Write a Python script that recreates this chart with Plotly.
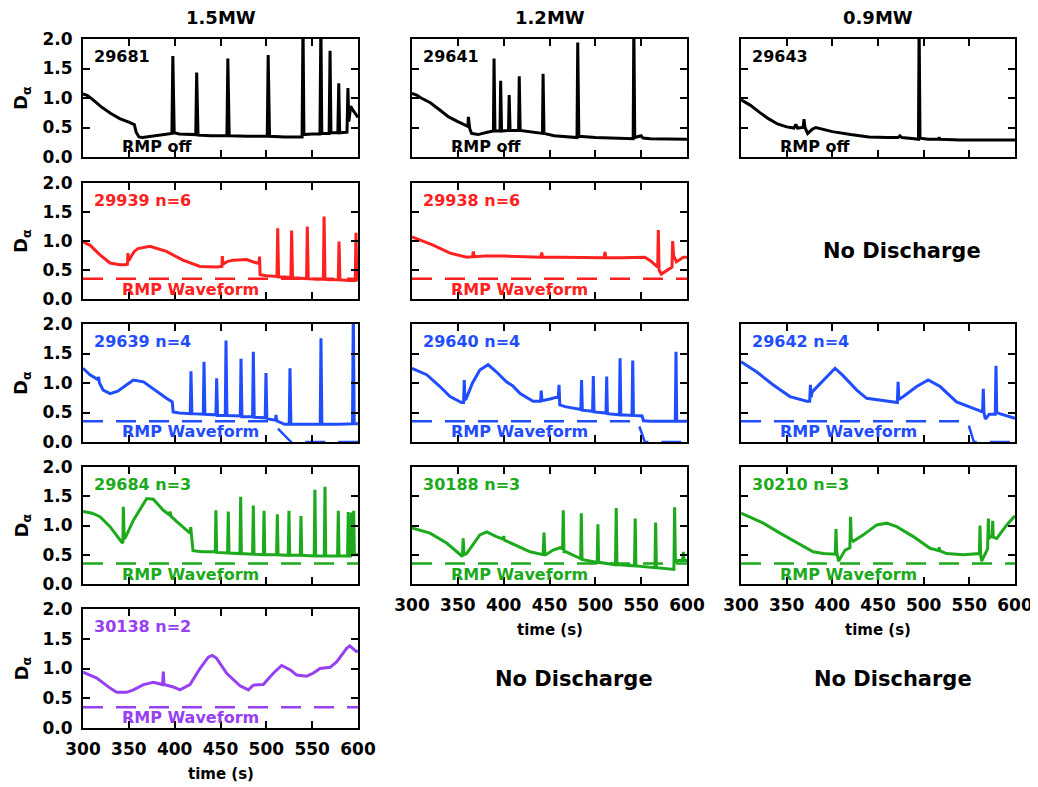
import plotly.graph_objects as go

# ---------------- data ----------------
column_titles = ["1.5MW", "1.2MW", "0.9MW"]
x_ticks = [300, 350, 400, 450, 500, 550, 600]
y_ticks = [0.0, 0.5, 1.0, 1.5, 2.0]

t_29681 = [300, 305, 310, 320, 330, 340, 350, 356, 358, 361, 365, 370, 380, 390, 397, 398, 399.5, 405, 415, 423, 424, 425.5,
           440, 457, 458, 459.5, 480, 501, 502, 503.5, 520, 539, 540, 541, 550, 558.5, 559.5, 560.5, 568.5, 569.5, 570.5,
           578, 579, 580, 588, 589, 590, 592, 595, 600]
v_29681 = [1.07, 1.04, 0.98, 0.85, 0.74, 0.65, 0.59, 0.55, 0.42, 0.34, 0.33, 0.34, 0.37, 0.39, 0.40, 1.71, 0.41, 0.39, 0.38, 0.38, 1.43, 0.37,
           0.36, 0.36, 1.67, 0.36, 0.35, 0.35, 1.73, 0.35, 0.34, 0.34, 2.3, 0.38, 0.39, 0.39, 2.3, 0.40, 0.40, 1.80, 0.41,
           0.41, 1.25, 0.41, 0.42, 1.17, 0.60, 0.86, 0.78, 0.67]

t_29641 = [300, 305, 310, 320, 330, 340, 350, 358, 361, 361.5, 363, 365, 372, 382, 388.8, 389.5, 390.5, 396, 396.7, 397.7,
           405.3, 406, 407, 416.3, 417, 418, 430, 442.3, 443, 444, 455, 470, 480, 480.8, 482, 500, 520, 541.3, 542, 543,
           550, 552, 560, 580, 600]
v_29641 = [1.08, 1.05, 1.00, 0.92, 0.80, 0.68, 0.60, 0.54, 0.52, 0.68, 0.48, 0.40, 0.38, 0.42, 0.44, 1.67, 0.44, 0.44, 1.29, 0.44,
           0.45, 1.05, 0.45, 0.45, 1.37, 0.45, 0.42, 0.40, 1.41, 0.40, 0.36, 0.34, 0.33, 1.94, 0.35, 0.33, 0.32, 0.31, 2.3, 0.33,
           0.36, 0.32, 0.31, 0.30, 0.30]

t_29643 = [300, 310, 320, 330, 340, 350, 358, 360, 362, 368, 369, 370, 373, 378, 382, 390, 400, 420, 440, 460, 472, 474, 476,
           490, 494.3, 495, 496, 505, 516, 517, 518, 540, 570, 600]
v_29643 = [0.97, 0.88, 0.76, 0.65, 0.56, 0.51, 0.49, 0.55, 0.49, 0.50, 0.64, 0.50, 0.40, 0.47, 0.50, 0.47, 0.43, 0.38, 0.34, 0.33, 0.33, 0.36, 0.33,
           0.31, 0.30, 2.3, 0.32, 0.30, 0.30, 0.33, 0.30, 0.29, 0.29, 0.29]

t_29939 = [300, 303, 307.6, 318.5, 329.5, 340, 346, 348.5, 349, 349.8, 352, 356, 360, 373, 391, 409, 427.6, 446, 451.5, 452, 452.8,
           458, 464, 478.5, 489.5, 492, 492.6, 493.2, 500, 511.6, 512.4, 513.4, 520, 526.8, 527.6, 528.6, 535, 543.9, 544.7, 545.7,
           555, 562.2, 563, 564, 570, 578.5, 579.3, 580.3, 590, 597, 597.8, 598.8, 600]
v_29939 = [0.99, 0.96, 0.93, 0.76, 0.62, 0.59, 0.59, 0.60, 0.79, 0.66, 0.72, 0.82, 0.87, 0.91, 0.82, 0.67, 0.56, 0.55, 0.56, 0.74, 0.60,
           0.65, 0.67, 0.68, 0.62, 0.62, 0.73, 0.42, 0.40, 0.39, 1.22, 0.38, 0.38, 0.37, 1.18, 0.36, 0.36, 0.35, 1.25, 0.35,
           0.34, 0.34, 1.42, 0.34, 0.33, 0.33, 0.99, 0.33, 0.32, 0.32, 1.14, 0.33, 0.33]

t_29938 = [300, 310, 323, 341.5, 359.7, 366, 366.9, 367.8, 380, 400, 420, 440.6, 441.5, 442.4, 460, 480, 500, 509.6, 510.5, 511.4,
           530, 554, 560, 567, 568, 568.7, 569.5, 572, 578.5, 583.6, 584.4, 585.4, 588.5, 596, 600]
v_29938 = [1.07, 1.01, 0.93, 0.79, 0.72, 0.73, 0.82, 0.73, 0.74, 0.74, 0.73, 0.72, 0.80, 0.72, 0.72, 0.72, 0.71, 0.71, 0.81, 0.71,
           0.71, 0.72, 0.66, 0.56, 0.55, 1.19, 0.50, 0.43, 0.50, 0.55, 1.00, 0.75, 0.64, 0.72, 0.72]

t_29639 = [300, 307.6, 316, 317, 318, 322, 329.5, 338, 347.7, 355, 366, 380.4, 391, 397.4, 398.3, 405, 417, 417.8, 418.8,
           431.2, 432, 433, 445, 445.8, 446.8, 455.2, 456, 457, 471.6, 472.4, 473.4, 485, 485.8, 486.8, 498.8, 499.6, 500.6,
           505, 510, 510.5, 511.2, 520, 525, 525.8, 526.8, 540, 558.8, 559.6, 560.6, 580, 594, 594.9, 595.8, 600]
v_29639 = [1.25, 1.14, 1.06, 1.10, 1.00, 0.88, 0.82, 0.86, 0.97, 1.05, 1.02, 0.85, 0.74, 0.68, 0.51, 0.49, 0.48, 1.20, 0.48,
           0.47, 1.36, 0.47, 0.46, 1.08, 0.45, 0.45, 1.72, 0.45, 0.44, 1.41, 0.43, 0.43, 1.53, 0.42, 0.41, 1.17, 0.40,
           0.38, 0.37, 0.46, 0.36, 0.30, 0.30, 1.25, 0.30, 0.30, 0.30, 1.76, 0.30, 0.30, 0.31, 2.3, 0.31, 0.31]

t_29640 = [300, 316, 330.5, 341.5, 354, 356.3, 357, 357.8, 359, 366, 374, 383, 392, 403, 410, 418, 432, 440.2, 441, 441.8,
           450.5, 459.6, 460.4, 461.2, 467, 476, 484.2, 485, 485.8, 497, 497.8, 498.6, 511.6, 512.4, 513.2, 526.2, 527, 527.8,
           540, 540.8, 541.6, 551, 552.5, 560, 587.2, 588, 588.8, 600]
v_29640 = [1.25, 1.14, 0.94, 0.77, 0.67, 0.67, 1.05, 0.72, 0.73, 1.00, 1.22, 1.31, 1.19, 1.02, 0.95, 0.82, 0.69, 0.69, 0.87, 0.70,
           0.73, 0.77, 0.97, 0.63, 0.60, 0.57, 0.55, 1.05, 0.54, 0.52, 1.12, 0.51, 0.49, 1.11, 0.48, 0.46, 1.42, 0.46,
           0.45, 1.38, 0.45, 0.44, 0.36, 0.35, 0.35, 1.53, 0.35, 0.35]

t_29642 = [300, 317, 335, 353.6, 372, 375.2, 376, 376.8, 378, 393.8, 403, 412, 426.7, 437.6, 452, 470.5, 471.2, 472, 472.8,
           477.8, 492.4, 505, 518, 536, 554, 563.6, 564.5, 565.3, 566, 567.5, 571.8, 578.4, 579.2, 580, 583, 600]
v_29642 = [1.36, 1.19, 0.97, 0.77, 0.69, 0.69, 0.97, 0.76, 0.85, 1.11, 1.25, 1.12, 0.88, 0.74, 0.71, 0.67, 0.67, 1.02, 0.72,
           0.77, 0.94, 1.05, 0.94, 0.68, 0.57, 0.51, 0.51, 0.90, 0.50, 0.39, 0.47, 0.47, 1.29, 0.50, 0.48, 0.40]

t_29684 = [300, 310, 318.5, 329.5, 342, 343.5, 344, 345, 347, 355, 369.5, 376.7, 387.6, 394.5, 395, 396, 402, 416.7, 417.5,
           418, 419, 420, 430, 444.3, 445, 445.8, 457.7, 458.5, 459.3, 471.2, 472, 472.8, 485, 485.8, 486.6, 496.7, 497.5,
           498.3, 511.2, 512, 512.8, 523.9, 524.7, 525.5, 537, 537.8, 538.6, 552.2, 553, 553.8, 563.2, 564, 564.8, 577.7,
           578.5, 579.3, 588.6, 589.4, 590.2, 592.2, 593, 593.8, 594.6, 595.3, 596, 600]
v_29684 = [1.24, 1.21, 1.15, 0.98, 0.72, 0.70, 1.32, 0.77, 0.82, 1.09, 1.46, 1.45, 1.26, 1.18, 1.24, 1.16, 1.07, 0.87, 0.97,
           0.87, 0.61, 0.57, 0.55, 0.55, 1.26, 0.54, 0.53, 1.24, 0.53, 0.52, 1.49, 0.52, 0.51, 1.34, 0.51, 0.50, 1.25,
           0.50, 0.50, 1.19, 0.50, 0.49, 1.25, 0.49, 0.49, 1.16, 0.49, 0.48, 1.61, 0.48, 0.48, 1.66, 0.48, 0.48,
           1.25, 0.48, 0.48, 1.23, 0.48, 0.48, 1.22, 0.49, 0.49, 1.25, 0.50, 0.50]

t_30188 = [300, 319.6, 337.8, 354, 355, 355.8, 356.8, 359.6, 374, 381.5, 392, 399.2, 400, 400.8, 410.5, 428.8, 443, 444, 445,
           446, 454, 461.5, 464.2, 465, 465.8, 468, 483, 484, 484.7, 485.5, 502, 502.8, 503.6, 522, 522.8, 523.6, 542.7, 543.5,
           544.3, 565, 565.8, 566.6, 585.7, 586.5, 587.3, 590, 595.2, 596, 596.8, 600]
v_30188 = [0.96, 0.87, 0.70, 0.47, 0.47, 0.78, 0.50, 0.52, 0.84, 0.89, 0.81, 0.77, 0.82, 0.75, 0.68, 0.55, 0.50, 0.88, 0.50,
           0.50, 0.58, 0.62, 0.60, 1.26, 0.55, 0.55, 0.44, 0.43, 1.21, 0.42, 0.37, 1.02, 0.37, 0.33, 1.30, 0.33, 0.31, 1.12,
           0.31, 0.28, 1.05, 0.28, 0.25, 1.31, 0.38, 0.40, 0.40, 0.55, 0.40, 0.40]

t_30210 = [300, 324.4, 342.7, 361, 379, 390, 397.5, 403.2, 404, 404.8, 406.8, 414, 419.2, 420, 420.8, 423, 434, 448.6, 459.5,
           470.5, 488.7, 507, 516.5, 517, 517.5, 525, 543.4, 560, 561, 561.7, 562.4, 563.5, 567, 570, 570.8, 571.6, 573,
           575, 575.6, 576.2, 580, 591, 599, 600]
v_30210 = [1.21, 1.04, 0.87, 0.71, 0.55, 0.52, 0.51, 0.51, 0.94, 0.55, 0.39, 0.58, 0.62, 1.15, 0.75, 0.73, 0.84, 1.01, 1.04,
           0.98, 0.81, 0.61, 0.57, 0.63, 0.57, 0.52, 0.50, 0.52, 0.52, 1.00, 0.50, 0.39, 0.52, 0.60, 1.12, 0.78, 0.80,
           0.82, 1.08, 0.80, 0.78, 1.01, 1.15, 1.16]

t_30138 = [300, 315, 329.5, 336.8, 347.7, 355, 366, 376.7, 386.8, 387.6, 388.4, 398.5, 405.8, 416.7, 427.6, 436.7, 441, 445.8,
           456.7, 471.3, 480.4, 485.8, 496.7, 507.6, 516.7, 525.8, 533, 544, 551, 558.5, 569.5, 576.7, 587.6, 591, 597.8, 600]
v_30138 = [0.94, 0.84, 0.67, 0.60, 0.60, 0.64, 0.73, 0.77, 0.73, 0.95, 0.73, 0.69, 0.64, 0.73, 1.00, 1.19, 1.22, 1.17,
           0.92, 0.71, 0.64, 0.72, 0.73, 0.92, 1.05, 0.98, 0.89, 0.87, 0.92, 1.00, 1.02, 1.11, 1.34, 1.38, 1.29, 1.29]

# RMP coil waveforms (dashed)
rmp_flat_t = [300, 600]
rmp_flat_v = [0.35, 0.35]
rmp_29639_t = [300, 505, 527, 600]
rmp_29639_v = [0.35, 0.35, 0.0, 0.0]
rmp_29640_t = [300, 546, 554, 600]
rmp_29640_v = [0.35, 0.35, 0.0, 0.0]
rmp_29642_t = [300, 548, 555, 600]
rmp_29642_v = [0.35, 0.35, 0.0, 0.0]

# ---------------- styling ----------------
BLACK = "#000000"
RED = "#ff2020"
BLUE = "#1f4dff"
GREEN = "#1caa1c"
PURPLE = "#9640f2"
FONT = "DejaVu Sans"

panels = [
    dict(row=0, col=0, label="29681", color=BLACK, t=t_29681, v=v_29681, rt=None, rv=None, note="RMP off"),
    dict(row=0, col=1, label="29641", color=BLACK, t=t_29641, v=v_29641, rt=None, rv=None, note="RMP off"),
    dict(row=0, col=2, label="29643", color=BLACK, t=t_29643, v=v_29643, rt=None, rv=None, note="RMP off"),
    dict(row=1, col=0, label="29939 n=6", color=RED, t=t_29939, v=v_29939, rt=rmp_flat_t, rv=rmp_flat_v, note="RMP Waveform"),
    dict(row=1, col=1, label="29938 n=6", color=RED, t=t_29938, v=v_29938, rt=rmp_flat_t, rv=rmp_flat_v, note="RMP Waveform"),
    dict(row=2, col=0, label="29639 n=4", color=BLUE, t=t_29639, v=v_29639, rt=rmp_29639_t, rv=rmp_29639_v, note="RMP Waveform"),
    dict(row=2, col=1, label="29640 n=4", color=BLUE, t=t_29640, v=v_29640, rt=rmp_29640_t, rv=rmp_29640_v, note="RMP Waveform"),
    dict(row=2, col=2, label="29642 n=4", color=BLUE, t=t_29642, v=v_29642, rt=rmp_29642_t, rv=rmp_29642_v, note="RMP Waveform"),
    dict(row=3, col=0, label="29684 n=3", color=GREEN, t=t_29684, v=v_29684, rt=rmp_flat_t, rv=rmp_flat_v, note="RMP Waveform"),
    dict(row=3, col=1, label="30188 n=3", color=GREEN, t=t_30188, v=v_30188, rt=rmp_flat_t, rv=rmp_flat_v, note="RMP Waveform"),
    dict(row=3, col=2, label="30210 n=3", color=GREEN, t=t_30210, v=v_30210, rt=rmp_flat_t, rv=rmp_flat_v, note="RMP Waveform"),
    dict(row=4, col=0, label="30138 n=2", color=PURPLE, t=t_30138, v=v_30138, rt=rmp_flat_t, rv=rmp_flat_v, note="RMP Waveform"),
]
bottom_rows = {0: 4, 1: 3, 2: 3}

# the page body adds an 8 px margin, so the figure is drawn 8 px in from the corner
OFF = 8
W, H = 1038 - OFF, 787 - OFF
COLS_PX = [(83, 358), (412, 687), (741, 1015)]
ROWS_PX = [(39, 157), (183, 299), (324, 442), (467, 584), (609, 728)]


def fx(px):
    return (px - OFF) / W


def fy(py):
    return 1 - (py - OFF) / H


fig = go.Figure()
layout = dict(width=W, height=H, margin=dict(l=0, r=0, t=0, b=0, pad=0), template="none",
              paper_bgcolor="white", plot_bgcolor="white", showlegend=False,
              font=dict(family=FONT, color="black", weight="bold"))
annotations = []

for i, p in enumerate(panels):
    k = i + 1
    xa, ya = f"x{k}", f"y{k}"
    x0, x1 = COLS_PX[p["col"]]
    y0, y1 = ROWS_PX[p["row"]]
    show_x = bottom_rows[p["col"]] == p["row"]
    show_y = p["col"] == 0
    layout[f"xaxis{k}"] = dict(domain=[fx(x0), fx(x1)], anchor=ya, range=[300, 600], tickvals=x_ticks,
                               ticks="inside", ticklen=7, tickwidth=1.5, tickcolor="black",
                               showline=True, linewidth=2, linecolor="black", mirror="ticks",
                               showgrid=False, zeroline=False, showticklabels=show_x, automargin=False,
                               ticklabelstandoff=5,
                               tickfont=dict(family=FONT, size=17, color="black", weight="bold"))
    layout[f"yaxis{k}"] = dict(domain=[fy(y1), fy(y0)], anchor=xa, range=[0, 2], tickvals=y_ticks,
                               tickformat=".1f", ticks="inside", ticklen=7, tickwidth=1.5, tickcolor="black",
                               showline=True, linewidth=2, linecolor="black", mirror="ticks",
                               showgrid=False, zeroline=False, showticklabels=show_y, automargin=False,
                               ticklabelstandoff=5,
                               tickfont=dict(family=FONT, size=17, color="black", weight="bold"))
    if p["rt"] is not None:
        fig.add_trace(go.Scatter(x=p["rt"], y=p["rv"], xaxis=xa, yaxis=ya, mode="lines",
                                 line=dict(color=p["color"], width=2.5, dash="20px,13px")))
    fig.add_trace(go.Scatter(x=p["t"], y=p["v"], xaxis=xa, yaxis=ya, mode="lines",
                             line=dict(color=p["color"], width=3)))
    annotations.append(dict(x=310, y=1.7, xref=xa, yref=ya, text=p["label"], showarrow=False,
                            xanchor="left", yanchor="middle",
                            font=dict(family=FONT, size=16, color=p["color"], weight="bold")))
    annotations.append(dict(x=340, y=0.17, xref=xa, yref=ya, text=p["note"], showarrow=False,
                            xanchor="left", yanchor="middle",
                            font=dict(family=FONT, size=16, color=p["color"], weight="bold")))
    if show_y:
        annotations.append(dict(x=fx(22), y=fy((y0 + y1) / 2), xref="paper", yref="paper",
                                text="D<sub>α</sub>", textangle=-90, showarrow=False,
                                xanchor="center", yanchor="middle",
                                font=dict(family=FONT, size=18, color="black", weight="bold")))
    if show_x:
        annotations.append(dict(x=fx((x0 + x1) / 2), y=fy(y1 + 46), xref="paper", yref="paper",
                                text="time (s)", showarrow=False, xanchor="center", yanchor="middle",
                                font=dict(family=FONT, size=15, color="black", weight="bold")))

for c, title in enumerate(column_titles):
    x0, x1 = COLS_PX[c]
    annotations.append(dict(x=fx((x0 + x1) / 2), y=fy(18), xref="paper", yref="paper", text=title,
                            showarrow=False, xanchor="center", yanchor="middle",
                            font=dict(family=FONT, size=18, color="black", weight="bold")))

for (cx, cy) in [(902, 251), (574, 679), (893, 679)]:
    annotations.append(dict(x=fx(cx), y=fy(cy), xref="paper", yref="paper", text="No Discharge",
                            showarrow=False, xanchor="center", yanchor="middle",
                            font=dict(family=FONT, size=21, color="black", weight="bold")))

layout["annotations"] = annotations
fig.update_layout(**layout)
fig.write_html("out.html")
